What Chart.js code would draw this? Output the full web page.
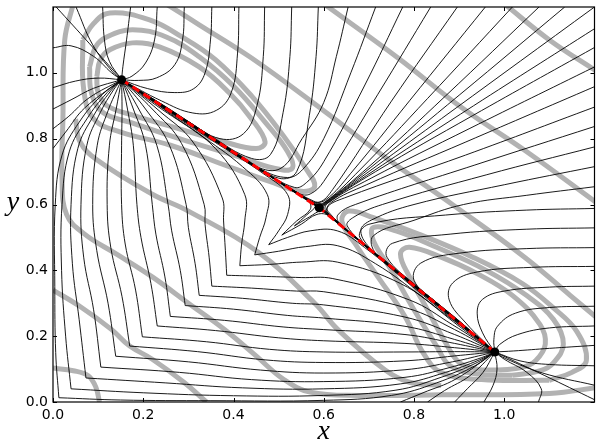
<!DOCTYPE html>
<html>
<head>
<meta charset="utf-8">
<script src="https://cdn.jsdelivr.net/npm/chart.js@4.4.1/dist/chart.umd.min.js"></script>
<style>
  html, body { margin: 0; padding: 0; background: #fff; }
  canvas { display: block; }
</style>
</head>
<body>
<canvas id="chart" width="599" height="443"></canvas>
<script>
const xTicks = [0, 0.2, 0.4, 0.6, 0.8, 1.0]
const yTicks = [0, 0.2, 0.4, 0.6, 0.8, 1.0]

// fixed points: upper node, saddle, lower node
const fixedPoints = [[0.152, 0.979], [0.59, 0.59], [0.979, 0.152]]
const separatrix = [[0.152, 0.979], [0.59, 0.59], [0.979, 0.152]]
const diagonalCurve = [[1.2, 1.2], [0.59, 0.59]]

// trajectories starting on the top edge (end in the upper node)
const topCurves = [
  [[0.007, 1.2], [0.08, 1.09], [0.152, 0.979]],
  [[0.051, 1.2], [0.088, 1.085], [0.132, 1.003], [0.152, 0.979]],
  [[0.11, 1.2], [0.114, 1.1], [0.125, 1.035], [0.152, 0.979]],
  [[0.172, 1.2], [0.163, 1.1], [0.155, 1.02], [0.152, 0.979]],
  [[0.231, 1.2], [0.225, 1.1], [0.205, 1.03], [0.175, 0.99], [0.152, 0.979]],
  [[0.291, 1.2], [0.287, 1.1], [0.27, 1.025], [0.23, 0.985], [0.19, 0.977], [0.152, 0.979]],
  [[0.352, 1.2], [0.349, 1.1], [0.337, 1.0], [0.312, 0.952], [0.27, 0.94], [0.21, 0.952], [0.152, 0.979]],
  [[0.412, 1.2], [0.409, 1.06], [0.395, 0.94], [0.362, 0.886], [0.31, 0.878], [0.24, 0.915], [0.152, 0.979]],
  [[0.469, 1.2], [0.466, 1.05], [0.452, 0.9], [0.422, 0.815], [0.37, 0.8], [0.3, 0.852], [0.22, 0.92], [0.152, 0.979]],
  [[0.529, 1.2], [0.525, 1.05], [0.51, 0.88], [0.482, 0.752], [0.44, 0.74], [0.35, 0.808], [0.25, 0.897], [0.152, 0.979]],
  [[0.588, 1.2], [0.583, 1.05], [0.568, 0.87], [0.54, 0.7], [0.5, 0.68], [0.42, 0.745], [0.33, 0.825], [0.24, 0.905], [0.152, 0.979]],
  [[0.654, 1.2], [0.628, 1.05], [0.6, 0.91], [0.552, 0.8], [0.505, 0.71], [0.45, 0.716], [0.35, 0.806], [0.25, 0.895], [0.152, 0.979]],
  [[0.715, 1.2], [0.66, 1.0], [0.6, 0.8], [0.553, 0.706], [0.52, 0.682], [0.46, 0.708], [0.35, 0.805], [0.25, 0.894], [0.152, 0.979]],
  [[0.775, 1.2], [0.69, 0.96], [0.6, 0.73], [0.562, 0.667], [0.535, 0.652], [0.46, 0.707], [0.35, 0.805], [0.25, 0.894], [0.152, 0.979]],
  [[0.837, 1.2], [0.72, 0.935], [0.6, 0.67], [0.57, 0.632], [0.545, 0.634], [0.46, 0.706], [0.35, 0.804], [0.25, 0.894], [0.152, 0.979]],
  [[0.896, 1.2], [0.75, 0.914], [0.62, 0.646], [0.59, 0.607], [0.56, 0.619], [0.46, 0.706], [0.35, 0.804], [0.25, 0.893], [0.152, 0.979]],
  [[0.958, 1.2], [0.79, 0.915], [0.66, 0.695], [0.605, 0.615], [0.578, 0.61], [0.46, 0.706], [0.35, 0.804], [0.25, 0.893], [0.152, 0.979]],
  [[1.018, 1.2], [0.83, 0.922], [0.68, 0.705], [0.603, 0.608], [0.58, 0.605], [0.46, 0.705], [0.35, 0.804], [0.25, 0.893], [0.152, 0.979]],
  [[1.077, 1.2], [0.87, 0.93], [0.7, 0.715], [0.6, 0.604], [0.583, 0.6], [0.46, 0.705], [0.35, 0.804], [0.25, 0.893], [0.152, 0.979]],
  [[1.134, 1.2], [0.9, 0.932], [0.72, 0.73], [0.598, 0.6], [0.585, 0.597], [0.46, 0.705], [0.35, 0.804], [0.25, 0.893], [0.152, 0.979]],
]

// trajectories starting on the right edge (end in the lower node)
const rightCurves = [
  [[1.2, 0.007], [1.09, 0.08], [0.979, 0.152]],
  [[1.2, 0.051], [1.085, 0.088], [1.003, 0.132], [0.979, 0.152]],
  [[1.2, 0.11], [1.1, 0.114], [1.035, 0.125], [0.979, 0.152]],
  [[1.2, 0.172], [1.1, 0.163], [1.02, 0.155], [0.979, 0.152]],
  [[1.2, 0.231], [1.1, 0.225], [1.03, 0.205], [0.99, 0.175], [0.979, 0.152]],
  [[1.2, 0.291], [1.1, 0.287], [1.025, 0.27], [0.985, 0.23], [0.977, 0.19], [0.979, 0.152]],
  [[1.2, 0.352], [1.1, 0.349], [1.0, 0.337], [0.952, 0.312], [0.94, 0.27], [0.952, 0.21], [0.979, 0.152]],
  [[1.2, 0.412], [1.06, 0.409], [0.94, 0.395], [0.886, 0.362], [0.878, 0.31], [0.915, 0.24], [0.979, 0.152]],
  [[1.2, 0.469], [1.05, 0.466], [0.9, 0.452], [0.815, 0.422], [0.8, 0.37], [0.852, 0.3], [0.92, 0.22], [0.979, 0.152]],
  [[1.2, 0.529], [1.05, 0.525], [0.88, 0.51], [0.752, 0.482], [0.74, 0.44], [0.808, 0.35], [0.897, 0.25], [0.979, 0.152]],
  [[1.2, 0.588], [1.05, 0.583], [0.87, 0.568], [0.7, 0.54], [0.68, 0.5], [0.745, 0.42], [0.825, 0.33], [0.905, 0.24], [0.979, 0.152]],
  [[1.2, 0.654], [1.05, 0.628], [0.91, 0.6], [0.8, 0.552], [0.71, 0.505], [0.716, 0.45], [0.806, 0.35], [0.895, 0.25], [0.979, 0.152]],
  [[1.2, 0.715], [1.0, 0.66], [0.8, 0.6], [0.706, 0.553], [0.682, 0.52], [0.708, 0.46], [0.805, 0.35], [0.894, 0.25], [0.979, 0.152]],
  [[1.2, 0.775], [0.96, 0.69], [0.73, 0.6], [0.667, 0.562], [0.652, 0.535], [0.707, 0.46], [0.805, 0.35], [0.894, 0.25], [0.979, 0.152]],
  [[1.2, 0.837], [0.935, 0.72], [0.67, 0.6], [0.632, 0.57], [0.634, 0.545], [0.706, 0.46], [0.804, 0.35], [0.894, 0.25], [0.979, 0.152]],
  [[1.2, 0.896], [0.914, 0.75], [0.646, 0.62], [0.607, 0.59], [0.619, 0.56], [0.706, 0.46], [0.804, 0.35], [0.893, 0.25], [0.979, 0.152]],
  [[1.2, 0.958], [0.915, 0.79], [0.695, 0.66], [0.615, 0.605], [0.61, 0.578], [0.706, 0.46], [0.804, 0.35], [0.893, 0.25], [0.979, 0.152]],
  [[1.2, 1.018], [0.922, 0.83], [0.705, 0.68], [0.608, 0.603], [0.605, 0.58], [0.705, 0.46], [0.804, 0.35], [0.893, 0.25], [0.979, 0.152]],
  [[1.2, 1.077], [0.93, 0.87], [0.715, 0.7], [0.604, 0.6], [0.6, 0.583], [0.705, 0.46], [0.804, 0.35], [0.893, 0.25], [0.979, 0.152]],
  [[1.2, 1.134], [0.932, 0.9], [0.73, 0.72], [0.6, 0.598], [0.597, 0.585], [0.705, 0.46], [0.804, 0.35], [0.893, 0.25], [0.979, 0.152]],
]

const leftCurves = [
  [[0, 1.076], [0.04, 1.082], [0.09, 1.05], [0.13, 1.0], [0.152, 0.979]],
  [[0, 0.955], [0.05, 0.975], [0.1, 0.984], [0.152, 0.979]],
  [[0, 0.89], [0.04, 0.918], [0.09, 0.953], [0.152, 0.979]],
  [[0, 0.83], [0.035, 0.868], [0.08, 0.924], [0.152, 0.979]],
  [[0, 0.77], [0.028, 0.82], [0.07, 0.893], [0.152, 0.979]],
]

const bottomCurves = [
  [[1.076, 0], [1.082, 0.04], [1.05, 0.09], [1.0, 0.13], [0.979, 0.152]],
  [[0.955, 0], [0.975, 0.05], [0.984, 0.1], [0.979, 0.152]],
  [[0.89, 0], [0.918, 0.04], [0.953, 0.09], [0.979, 0.152]],
  [[0.83, 0], [0.868, 0.035], [0.924, 0.08], [0.979, 0.152]],
  [[0.77, 0], [0.82, 0.028], [0.893, 0.07], [0.979, 0.152]],
]

// V shaped pairs starting on the diagonal: upper arm to the upper node
const upperArms = [
  [[0.013, 0.013], [0.006, 0.15], [0.004, 0.35], [0.005, 0.6], [0.02, 0.75], [0.058, 0.85], [0.11, 0.935], [0.152, 0.979]],
  [[0.04, 0.04], [0.028, 0.2], [0.019, 0.4], [0.02, 0.6], [0.036, 0.76], [0.075, 0.86], [0.12, 0.94], [0.152, 0.979]],
  [[0.073, 0.073], [0.058, 0.25], [0.043, 0.42], [0.04, 0.6], [0.055, 0.77], [0.09, 0.87], [0.128, 0.945], [0.152, 0.979]],
  [[0.106, 0.106], [0.09, 0.28], [0.068, 0.44], [0.062, 0.6], [0.075, 0.78], [0.105, 0.88], [0.135, 0.95], [0.152, 0.979]],
  [[0.139, 0.139], [0.122, 0.3], [0.097, 0.46], [0.088, 0.6], [0.098, 0.78], [0.122, 0.885], [0.143, 0.952], [0.152, 0.979]],
  [[0.17, 0.17], [0.153, 0.32], [0.128, 0.47], [0.12, 0.6], [0.125, 0.78], [0.14, 0.89], [0.152, 0.979]],
  [[0.198, 0.198], [0.183, 0.34], [0.16, 0.48], [0.152, 0.6], [0.152, 0.78], [0.153, 0.89], [0.152, 0.979]],
  [[0.231, 0.231], [0.217, 0.36], [0.195, 0.5], [0.186, 0.6], [0.178, 0.78], [0.165, 0.89], [0.152, 0.979]],
  [[0.26, 0.26], [0.248, 0.38], [0.228, 0.51], [0.22, 0.6], [0.205, 0.78], [0.178, 0.89], [0.152, 0.979]],
  [[0.293, 0.293], [0.282, 0.4], [0.263, 0.52], [0.255, 0.6], [0.23, 0.78], [0.19, 0.89], [0.152, 0.979]],
  [[0.324, 0.324], [0.315, 0.42], [0.3, 0.53], [0.295, 0.6], [0.258, 0.78], [0.205, 0.89], [0.152, 0.979]],
  [[0.352, 0.352], [0.346, 0.44], [0.337, 0.54], [0.335, 0.6], [0.285, 0.785], [0.22, 0.89], [0.152, 0.979]],
  [[0.385, 0.385], [0.382, 0.46], [0.378, 0.55], [0.375, 0.62], [0.31, 0.79], [0.235, 0.885], [0.152, 0.979]],
  [[0.414, 0.414], [0.418, 0.48], [0.425, 0.55], [0.425, 0.63], [0.36, 0.77], [0.26, 0.875], [0.152, 0.979]],
  [[0.447, 0.447], [0.458, 0.5], [0.472, 0.56], [0.475, 0.63], [0.42, 0.715], [0.32, 0.817], [0.23, 0.9], [0.152, 0.979]],
  [[0.478, 0.478], [0.5, 0.52], [0.52, 0.57], [0.52, 0.63], [0.47, 0.69], [0.35, 0.797], [0.25, 0.887], [0.152, 0.979]],
  [[0.507, 0.507], [0.54, 0.55], [0.57, 0.585], [0.565, 0.612], [0.46, 0.703], [0.35, 0.8], [0.25, 0.89], [0.152, 0.979]],
  [[0.535, 0.535], [0.562, 0.568], [0.582, 0.596], [0.572, 0.61], [0.46, 0.704], [0.35, 0.801], [0.25, 0.891], [0.152, 0.979]],
]

// right arm of the same pairs, to the lower node
const rightArms = [
  [[0.013, 0.013], [0.15, 0.006], [0.35, 0.004], [0.6, 0.005], [0.75, 0.02], [0.85, 0.058], [0.935, 0.11], [0.979, 0.152]],
  [[0.04, 0.04], [0.2, 0.028], [0.4, 0.019], [0.6, 0.02], [0.76, 0.036], [0.86, 0.075], [0.94, 0.12], [0.979, 0.152]],
  [[0.073, 0.073], [0.25, 0.058], [0.42, 0.043], [0.6, 0.04], [0.77, 0.055], [0.87, 0.09], [0.945, 0.128], [0.979, 0.152]],
  [[0.106, 0.106], [0.28, 0.09], [0.44, 0.068], [0.6, 0.062], [0.78, 0.075], [0.88, 0.105], [0.95, 0.135], [0.979, 0.152]],
  [[0.139, 0.139], [0.3, 0.122], [0.46, 0.097], [0.6, 0.088], [0.78, 0.098], [0.885, 0.122], [0.952, 0.143], [0.979, 0.152]],
  [[0.17, 0.17], [0.32, 0.153], [0.47, 0.128], [0.6, 0.12], [0.78, 0.125], [0.89, 0.14], [0.979, 0.152]],
  [[0.198, 0.198], [0.34, 0.183], [0.48, 0.16], [0.6, 0.152], [0.78, 0.152], [0.89, 0.153], [0.979, 0.152]],
  [[0.231, 0.231], [0.36, 0.217], [0.5, 0.195], [0.6, 0.186], [0.78, 0.178], [0.89, 0.165], [0.979, 0.152]],
  [[0.26, 0.26], [0.38, 0.248], [0.51, 0.228], [0.6, 0.22], [0.78, 0.205], [0.89, 0.178], [0.979, 0.152]],
  [[0.293, 0.293], [0.4, 0.282], [0.52, 0.263], [0.6, 0.255], [0.78, 0.23], [0.89, 0.19], [0.979, 0.152]],
  [[0.324, 0.324], [0.42, 0.315], [0.53, 0.3], [0.6, 0.295], [0.78, 0.258], [0.89, 0.205], [0.979, 0.152]],
  [[0.352, 0.352], [0.44, 0.346], [0.54, 0.337], [0.6, 0.335], [0.785, 0.285], [0.89, 0.22], [0.979, 0.152]],
  [[0.385, 0.385], [0.46, 0.382], [0.55, 0.378], [0.62, 0.375], [0.79, 0.31], [0.885, 0.235], [0.979, 0.152]],
  [[0.414, 0.414], [0.48, 0.418], [0.55, 0.425], [0.63, 0.425], [0.77, 0.36], [0.875, 0.26], [0.979, 0.152]],
  [[0.447, 0.447], [0.5, 0.458], [0.56, 0.472], [0.63, 0.475], [0.715, 0.42], [0.817, 0.32], [0.9, 0.23], [0.979, 0.152]],
  [[0.478, 0.478], [0.52, 0.5], [0.57, 0.52], [0.63, 0.52], [0.69, 0.47], [0.797, 0.35], [0.887, 0.25], [0.979, 0.152]],
  [[0.507, 0.507], [0.55, 0.54], [0.585, 0.57], [0.612, 0.565], [0.703, 0.46], [0.8, 0.35], [0.89, 0.25], [0.979, 0.152]],
  [[0.535, 0.535], [0.568, 0.562], [0.596, 0.582], [0.61, 0.572], [0.704, 0.46], [0.801, 0.35], [0.891, 0.25], [0.979, 0.152]],
]

// grey level curves
const upperLoops = [
  [[0.066, 1.1], [0.09, 1.15], [0.126, 1.182], [0.214, 1.161], [0.286, 1.109], [0.36, 1.04], [0.44, 0.93], [0.51, 0.81], [0.56, 0.71], [0.58, 0.655], [0.55, 0.64], [0.48, 0.67], [0.38, 0.72], [0.26, 0.78], [0.15, 0.82], [0.09, 0.86], [0.068, 0.95], [0.066, 1.1]],
  [[0.081, 1.018], [0.095, 1.08], [0.119, 1.109], [0.176, 1.131], [0.251, 1.109], [0.324, 1.049], [0.4, 0.96], [0.47, 0.85], [0.52, 0.76], [0.53, 0.71], [0.49, 0.71], [0.4, 0.75], [0.28, 0.8], [0.17, 0.85], [0.11, 0.88], [0.085, 0.94], [0.081, 1.018]],
  [[0.097, 0.988], [0.105, 1.04], [0.126, 1.07], [0.176, 1.091], [0.236, 1.079], [0.324, 1.018], [0.39, 0.94], [0.44, 0.86], [0.47, 0.79], [0.45, 0.77], [0.38, 0.79], [0.28, 0.83], [0.18, 0.87], [0.12, 0.9], [0.1, 0.94], [0.097, 0.988]],
]
const lowerLoops = [
  [[1.1, 0.066], [1.15, 0.09], [1.182, 0.126], [1.161, 0.214], [1.109, 0.286], [1.04, 0.36], [0.93, 0.44], [0.81, 0.51], [0.71, 0.56], [0.655, 0.58], [0.64, 0.55], [0.67, 0.48], [0.72, 0.38], [0.78, 0.26], [0.82, 0.15], [0.86, 0.09], [0.95, 0.068], [1.1, 0.066]],
  [[1.018, 0.081], [1.08, 0.095], [1.109, 0.119], [1.131, 0.176], [1.109, 0.251], [1.049, 0.324], [0.96, 0.4], [0.85, 0.47], [0.76, 0.52], [0.71, 0.53], [0.71, 0.49], [0.75, 0.4], [0.8, 0.28], [0.85, 0.17], [0.88, 0.11], [0.94, 0.085], [1.018, 0.081]],
  [[0.988, 0.097], [1.04, 0.105], [1.07, 0.126], [1.091, 0.176], [1.079, 0.236], [1.018, 0.324], [0.94, 0.39], [0.86, 0.44], [0.79, 0.47], [0.77, 0.45], [0.79, 0.38], [0.83, 0.28], [0.87, 0.18], [0.9, 0.12], [0.94, 0.1], [0.988, 0.097]],
]
const levelBands = [
  [[0.6, 1.21], [0.764, 1.046], [0.9, 0.9], [1.046, 0.764], [1.21, 0.6]],
  [[1.0, 1.21], [1.1, 1.1], [1.21, 1.0]],
  [[0.25, 1.21], [0.324, 1.146], [0.44, 1.045], [0.6, 0.885], [0.74, 0.74], [0.885, 0.6], [1.045, 0.44], [1.146, 0.324], [1.21, 0.25]],
  [[0.045, 1.21], [0.026, 1.1], [0.022, 0.86], [0.02, 0.68], [0.03, 0.57], [0.07, 0.51], [0.14, 0.45], [0.22, 0.38], [0.3, 0.3], [0.38, 0.22], [0.45, 0.14], [0.51, 0.07], [0.57, 0.03], [0.68, 0.02], [0.86, 0.022], [1.1, 0.026], [1.21, 0.045]],
  [[0.05, 0.86], [0.06, 0.79], [0.097, 0.736], [0.219, 0.632], [0.3, 0.58], [0.455, 0.455], [0.58, 0.3], [0.632, 0.219], [0.736, 0.097], [0.79, 0.06], [0.86, 0.05]],
  [[0, 0.34], [0.06, 0.29], [0.13, 0.22], [0.17, 0.17], [0.22, 0.13], [0.29, 0.06], [0.34, 0]],
  [[0, 0.103], [0.045, 0.095], [0.078, 0.08], [0.095, 0.045], [0.103, 0]],
]

Chart.defaults.font.family = 'DejaVu Sans'
Chart.defaults.font.size = 14
Chart.defaults.color = '#000'

function toPoints (curve) {
  return curve.map(function (p) { return { x: p[0], y: p[1] } })
}

const datasets = []
function addCurves (curves, style) {
  for (let i = 0; i < curves.length; i++) {
    datasets.push(Object.assign({
      data: toPoints(curves[i]),
      showLine: true,
      pointRadius: 0,
      fill: false,
      clip: 0,
    }, style))
  }
}

const levelStyle = { borderColor: 'rgb(178,178,178)', borderWidth: 5, tension: 0.4, order: 4 }
const trajStyle = { borderColor: '#000', borderWidth: 0.9, tension: 0.4, order: 3 }

addCurves(upperLoops, levelStyle)
addCurves(lowerLoops, levelStyle)
addCurves(levelBands, levelStyle)
addCurves(topCurves, trajStyle)
addCurves(rightCurves, trajStyle)
addCurves(leftCurves, trajStyle)
addCurves(bottomCurves, trajStyle)
addCurves(upperArms, trajStyle)
addCurves(rightArms, trajStyle)
addCurves([diagonalCurve], trajStyle)
addCurves([separatrix], { borderColor: '#000', borderWidth: 1.5, tension: 0, order: 2 })
addCurves([separatrix], { borderColor: '#ff0000', borderWidth: 3, borderDash: [8, 5], tension: 0, order: 1 })
datasets.push({
  data: toPoints(fixedPoints),
  showLine: false,
  pointRadius: 4.5,
  pointBackgroundColor: '#000',
  pointBorderWidth: 0,
  clip: false,
  order: 0,
})

// frame, inward ticks on all sides and the axis letters
const framePlugin = {
  id: 'frame',
  afterDatasetsDraw (chart) {
    const ctx = chart.ctx
    const a = chart.chartArea
    const sx = chart.scales.x
    const sy = chart.scales.y
    ctx.save()
    ctx.strokeStyle = '#000'
    ctx.lineWidth = 1
    for (let i = 0; i < xTicks.length; i++) {
      const px = Math.round(sx.getPixelForValue(xTicks[i])) + 0.5
      ctx.beginPath()
      ctx.moveTo(px, a.bottom)
      ctx.lineTo(px, a.bottom - 4)
      ctx.moveTo(px, a.top)
      ctx.lineTo(px, a.top + 4)
      ctx.stroke()
    }
    for (let i = 0; i < yTicks.length; i++) {
      const py = Math.round(sy.getPixelForValue(yTicks[i])) + 0.5
      ctx.beginPath()
      ctx.moveTo(a.left, py)
      ctx.lineTo(a.left + 4, py)
      ctx.moveTo(a.right, py)
      ctx.lineTo(a.right - 4, py)
      ctx.stroke()
    }
    ctx.lineWidth = 1.2
    ctx.strokeRect(a.left, a.top, a.right - a.left, a.bottom - a.top)
    ctx.fillStyle = '#000'
    ctx.font = 'italic 28px "Liberation Serif"'
    ctx.textAlign = 'center'
    ctx.textBaseline = 'alphabetic'
    ctx.fillText('x', (a.left + a.right) / 2, 439)
    ctx.fillText('y', 13, 210)
    ctx.restore()
  },
}

const config = {
  type: 'scatter',
  data: {
    datasets: datasets,
  },
  options: {
    responsive: false,
    animation: false,
    events: [],
    layout: {
      padding: { top: 7, right: -1.5, left: 0, bottom: 0 },
    },
    plugins: {
      legend: { display: false },
      tooltip: { enabled: false },
    },
    scales: {
      x: {
        type: 'linear',
        min: 0,
        max: 1.2,
        afterBuildTicks: function (scale) {
          scale.ticks = xTicks.map(function (v) { return { value: v } })
        },
        afterFit: function (scale) {
          scale.height = 41
          scale.paddingLeft = 0
          scale.paddingRight = 0
        },
        ticks: {
          callback: function (v) { return v.toFixed(1) },
          padding: 5,
          maxRotation: 0,
          autoSkip: false,
        },
        grid: { display: false, drawTicks: false },
        border: { display: false },
      },
      y: {
        type: 'linear',
        min: 0,
        max: 1.2,
        afterBuildTicks: function (scale) {
          scale.ticks = yTicks.map(function (v) { return { value: v } })
        },
        afterFit: function (scale) {
          scale.width = 53
          scale.paddingTop = 0
          scale.paddingBottom = 0
        },
        ticks: {
          callback: function (v) { return v.toFixed(1) },
          padding: 5,
          autoSkip: false,
        },
        grid: { display: false, drawTicks: false },
        border: { display: false },
      },
    },
  },
  plugins: [framePlugin],
}

const ctx = document.getElementById('chart').getContext('2d')
const myChart = new Chart(ctx, config)
</script>
</body>
</html>
